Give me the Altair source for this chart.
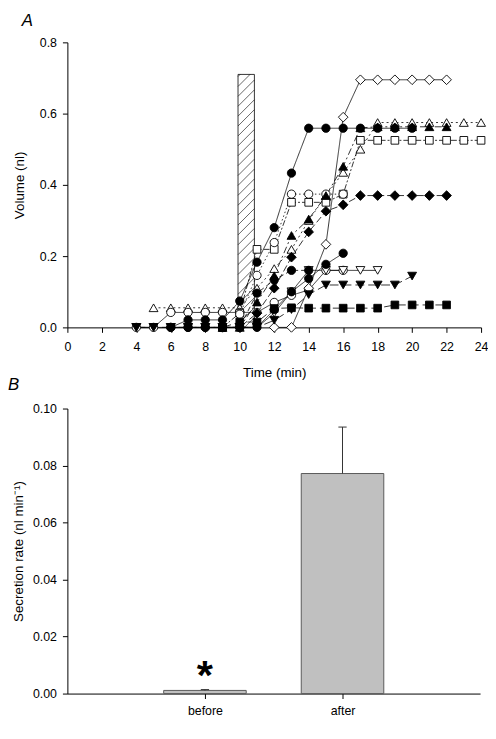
import altair as alt
import pandas as pd

FONT = "Liberation Sans"

# ---------------- Panel A: volume vs time (one list pair per duct) ----------------
fc1_t = [6, 7, 8, 9, 10, 11, 12, 13, 14, 15, 16, 17, 18, 19, 20]
fc1_v = [0.0, 0.021, 0.021, 0.021, 0.074, 0.183, 0.28, 0.433, 0.559, 0.559, 0.559, 0.559, 0.559, 0.559, 0.559]

od_t = [12, 13, 14, 15, 16, 17, 18, 19, 20, 21, 22]
od_v = [0.0, 0.0, 0.11, 0.233, 0.59, 0.695, 0.695, 0.695, 0.695, 0.695, 0.695]

fd_t = [9, 10, 11, 12, 13, 14, 15, 16, 17, 18, 19, 20, 21, 22]
fd_v = [0.0, 0.0, 0.04, 0.11, 0.197, 0.268, 0.326, 0.344, 0.37, 0.37, 0.37, 0.37, 0.37, 0.37]

ft_t = [9, 10, 11, 12, 13, 14, 15, 16, 17, 18, 19, 20, 21, 22]
ft_v = [0.0, 0.0, 0.071, 0.145, 0.258, 0.304, 0.37, 0.452, 0.56, 0.563, 0.563, 0.563, 0.563, 0.563]

ot_t = [5, 6, 7, 8, 9, 10, 11, 12, 13, 14, 15, 16, 17, 18, 19, 20, 21, 22, 23, 24]
ot_v = [0.055, 0.055, 0.055, 0.055, 0.055, 0.055, 0.11, 0.165, 0.219, 0.3, 0.37, 0.435, 0.50,
        0.575, 0.575, 0.575, 0.575, 0.575, 0.575, 0.575]

os_t = [9, 10, 11, 12, 13, 14, 15, 16, 17, 18, 19, 20, 21, 22, 23, 24]
os_v = [0.0, 0.04, 0.219, 0.219, 0.351, 0.351, 0.351, 0.374, 0.525, 0.525, 0.525, 0.525, 0.525, 0.525, 0.525, 0.525]

oc1_t = [4, 5, 6, 7, 8, 9, 10, 11, 12, 13, 14, 15, 16]
oc1_v = [0.0, 0.0, 0.042, 0.042, 0.042, 0.042, 0.042, 0.042, 0.07, 0.09, 0.105, 0.16, 0.16]

oc2_t = [10, 11, 12, 13, 14, 15, 16]
oc2_v = [0.037, 0.146, 0.238, 0.374, 0.374, 0.374, 0.374]

otd_t = [4, 5, 6, 7, 8, 9, 10, 11, 12, 13, 14, 15, 16, 17, 18]
otd_v = [0.0, 0.0, 0.0, 0.0, 0.0, 0.0, 0.0, 0.0, 0.04, 0.10, 0.16, 0.16, 0.16, 0.16, 0.16]

ftd_t = [4, 5, 6, 7, 8, 9, 10, 11, 12, 13, 14, 15, 16, 17, 18, 19, 20]
ftd_v = [0.0, 0.0, 0.0, 0.0, 0.0, 0.0, 0.0, 0.0, 0.02, 0.05, 0.092, 0.119, 0.119, 0.119, 0.119, 0.119, 0.144]

fs_t = [9, 10, 11, 12, 13, 14, 15, 16, 17, 18, 19, 20, 21, 22]
fs_v = [0.0, 0.015, 0.015, 0.053, 0.055, 0.054, 0.054, 0.054, 0.054, 0.054, 0.063, 0.063, 0.063, 0.063]

fc2_t = [7, 8, 9, 10, 11, 12, 13, 14, 15, 16]
fc2_v = [0.0, 0.0, 0.0, 0.0, 0.0, 0.05, 0.10, 0.137, 0.177, 0.208]

fc3_t = [6, 7, 8, 9, 10, 11, 12, 13, 14]
fc3_v = [0.0, 0.0, 0.0, 0.0, 0.0, 0.096, 0.133, 0.16, 0.16]

# stimulus bar (hatched)
stim_start = [9.9]
stim_end = [10.85]
stim_top = [0.71]

# x-axis ticks of panel A
time_ticks = [0, 2, 4, 6, 8, 10, 12, 14, 16, 18, 20, 22, 24]
vol_ticks = [0.0, 0.2, 0.4, 0.6, 0.8]

# ---------------- Panel B: secretion rate ----------------
periods = ["before", "after"]
rates = [0.0011, 0.0772]
errors = [0.0003, 0.0163]
rate_ticks = [0.0, 0.02, 0.04, 0.06, 0.08, 0.10]

# ---------------- styles (not data) ----------------
series = [
    ("ot", ot_t, ot_v), ("oc1", oc1_t, oc1_v), ("otd", otd_t, otd_v), ("os", os_t, os_v),
    ("oc2", oc2_t, oc2_v), ("od", od_t, od_v), ("ftd", ftd_t, ftd_v), ("fs", fs_t, fs_v),
    ("fd", fd_t, fd_v), ("ft", ft_t, ft_v), ("fc3", fc3_t, fc3_v), ("fc2", fc2_t, fc2_v),
    ("fc1", fc1_t, fc1_v),
]
style = {
    "fc1": ("circle", "black", [1, 0]),
    "od": ("diamond", "white", [1, 0]),
    "fd": ("diamond", "black", [7, 3]),
    "ft": ("triangle-up", "black", [7, 3, 2, 3]),
    "ot": ("triangle-up", "white", [2, 3]),
    "os": ("square", "white", [6, 2, 2, 2]),
    "oc1": ("circle", "white", [1, 0]),
    "oc2": ("circle", "white", [1.5, 2.5]),
    "otd": ("triangle-down", "white", [1, 0]),
    "ftd": ("triangle-down", "black", [9, 4]),
    "fs": ("square", "black", [9, 4]),
    "fc2": ("circle", "black", [1, 0]),
    "fc3": ("circle", "black", [5, 3]),
}
shape_size = {"circle": 70, "square": 60, "diamond": 95, "triangle-up": 80, "triangle-down": 80}

rows = []
for name, ts, vs in series:
    shp, fillc, _ = style[name]
    for t, v in zip(ts, vs):
        rows.append({"series": name, "t": t, "v": v, "shp": shp, "fillc": fillc, "sz": shape_size[shp]})
dfA = pd.DataFrame(rows)
names = [s[0] for s in series]
dashes = [style[n][2] for n in names]

WA, HA = 418, 288
WB, HB = 417, 288

xsA = alt.Scale(domain=[0, 24], nice=False)
ysA = alt.Scale(domain=[0, 0.8], nice=False)


def x_axis_A():
    return alt.Axis(values=time_ticks, tickCount=len(time_ticks), title="Time (min)", titleY=46,
                    titleBaseline="middle", labelOverlap=False, labelFlush=False, labelSeparation=0)


def y_axis_A():
    return alt.Axis(values=vol_ticks, format=".1f", title="Volume (nl)",
                    titleX=-48, titleBaseline="middle", labelOverlap=False)


# hatched stimulus bar
stim = pd.DataFrame({"x0": stim_start, "x1": stim_end, "y0": [0.0] * len(stim_top), "y1": stim_top})
px_per_min = WA / 24.0
px_per_v = HA / 0.8
hrows = []
for s0, s1, top in zip(stim_start, stim_end, stim_top):
    w_px = (s1 - s0) * px_per_min
    rise = w_px / px_per_v
    spacing = 10.0 / px_per_v
    vl = -rise
    while vl < top:
        xa, va = s0, vl
        xb, vb = s1, vl + rise
        if va < 0:
            xa = s0 + (0 - vl) / rise * (s1 - s0)
            va = 0.0
        if vb > top:
            xb = s0 + (top - vl) / rise * (s1 - s0)
            vb = top
        if xb > xa:
            hrows.append({"hx1": xa, "hx2": xb, "hy1": va, "hy2": vb})
        vl += spacing
hatch = pd.DataFrame(hrows)

rect = alt.Chart(stim).mark_rect(fill="white", stroke="black", strokeWidth=0.8).encode(
    x=alt.X("x0:Q", scale=xsA, axis=x_axis_A()), x2="x1:Q",
    y=alt.Y("y0:Q", scale=ysA, axis=y_axis_A()), y2="y1:Q")
hatch_l = alt.Chart(hatch).mark_rule(color="black", strokeWidth=0.6).encode(
    x=alt.X("hx1:Q", scale=xsA, axis=x_axis_A()), x2="hx2:Q",
    y=alt.Y("hy1:Q", scale=ysA, axis=y_axis_A()), y2="hy2:Q")

lines = alt.Chart(dfA).mark_line(color="black", strokeWidth=0.8).encode(
    x=alt.X("t:Q", scale=xsA, axis=x_axis_A()), y=alt.Y("v:Q", scale=ysA, axis=y_axis_A()),
    detail="series:N",
    strokeDash=alt.StrokeDash("series:N", scale=alt.Scale(domain=names, range=dashes), legend=None))
points = alt.Chart(dfA).mark_point(filled=True, stroke="black", strokeWidth=0.9, opacity=1).encode(
    x=alt.X("t:Q", scale=xsA, axis=x_axis_A()), y=alt.Y("v:Q", scale=ysA, axis=y_axis_A()),
    shape=alt.Shape("shp:N", scale=None),
    fill=alt.Fill("fillc:N", scale=None),
    size=alt.Size("sz:Q", scale=None))

panelA = alt.layer(rect, hatch_l, lines, points).properties(
    width=WA, height=HA,
    title=alt.TitleParams("A", anchor="start", frame="group", dx=-46, offset=-6, baseline="alphabetic",
                          font=FONT, fontSize=17, fontStyle="italic", fontWeight="normal"))

# ---------------- Panel B ----------------
half = 0.3
cap = 0.03
dfB = pd.DataFrame({"period": periods, "pos": [1, 2], "rate": rates, "err": errors})
dfB["left"] = dfB["pos"] - half
dfB["right"] = dfB["pos"] + half
dfB["top"] = dfB["rate"] + dfB["err"]
dfB["capl"] = dfB["pos"] - cap
dfB["capr"] = dfB["pos"] + cap
dfB["zero"] = 0.0

xB_scale = alt.Scale(domain=[0, 3], nice=False)
yB_scale = alt.Scale(domain=[0, 0.1], nice=False)
bars = alt.Chart(dfB).mark_rect(fill="#c0c0c0", stroke="#5a5a5a", strokeWidth=1).encode(
    x=alt.X("left:Q", scale=xB_scale,
            axis=alt.Axis(values=[1, 2], title=None, labelPadding=6, labelFlush=False,
                          labelExpr="datum.value == 1 ? 'before' : 'after'")),
    x2="right:Q",
    y=alt.Y("rate:Q", scale=yB_scale,
            axis=alt.Axis(values=rate_ticks, format=".2f",
                          title="Secretion rate (nl min\u207b\u00b9)", titleX=-49, titleBaseline="middle")),
    y2="zero:Q")
errs = alt.Chart(dfB).mark_rule(color="#333333", strokeWidth=1).encode(
    x="pos:Q", y="rate:Q", y2="top:Q")
caps = alt.Chart(dfB).mark_rule(color="#333333", strokeWidth=1).encode(
    x="capl:Q", x2="capr:Q", y="top:Q")
star = alt.Chart(dfB[dfB["period"] == "before"]).mark_text(
    text="*", font=FONT, fontSize=42, fontWeight="bold", baseline="alphabetic", align="center", dy=-1
).encode(x="pos:Q", y="top:Q")

panelB = alt.layer(bars, errs, caps, star).properties(
    width=WB, height=HB,
    title=alt.TitleParams("B", anchor="start", frame="group", dx=-60, offset=-4, baseline="alphabetic",
                          font=FONT, fontSize=17, fontStyle="italic", fontWeight="normal"))

chart = alt.vconcat(panelA, panelB, spacing=82, bounds="flush").properties(
    padding={"left": 0, "top": 0, "right": 0, "bottom": 0}
).configure_view(stroke=None).configure_axis(
    grid=False, domainColor="black", tickColor="black", labelColor="black", titleColor="black",
    labelFont=FONT, titleFont=FONT, labelFontSize=12.5, titleFontSize=13.5, titleFontWeight="normal",
    tickSize=5, domainWidth=1, tickWidth=1, labelOverlap=False
).configure_axisX(labelPadding=8, labelOverlap=False).configure_axisY(labelPadding=6)

chart.save("out.html", embed_options={"renderer": "svg", "actions": False})
